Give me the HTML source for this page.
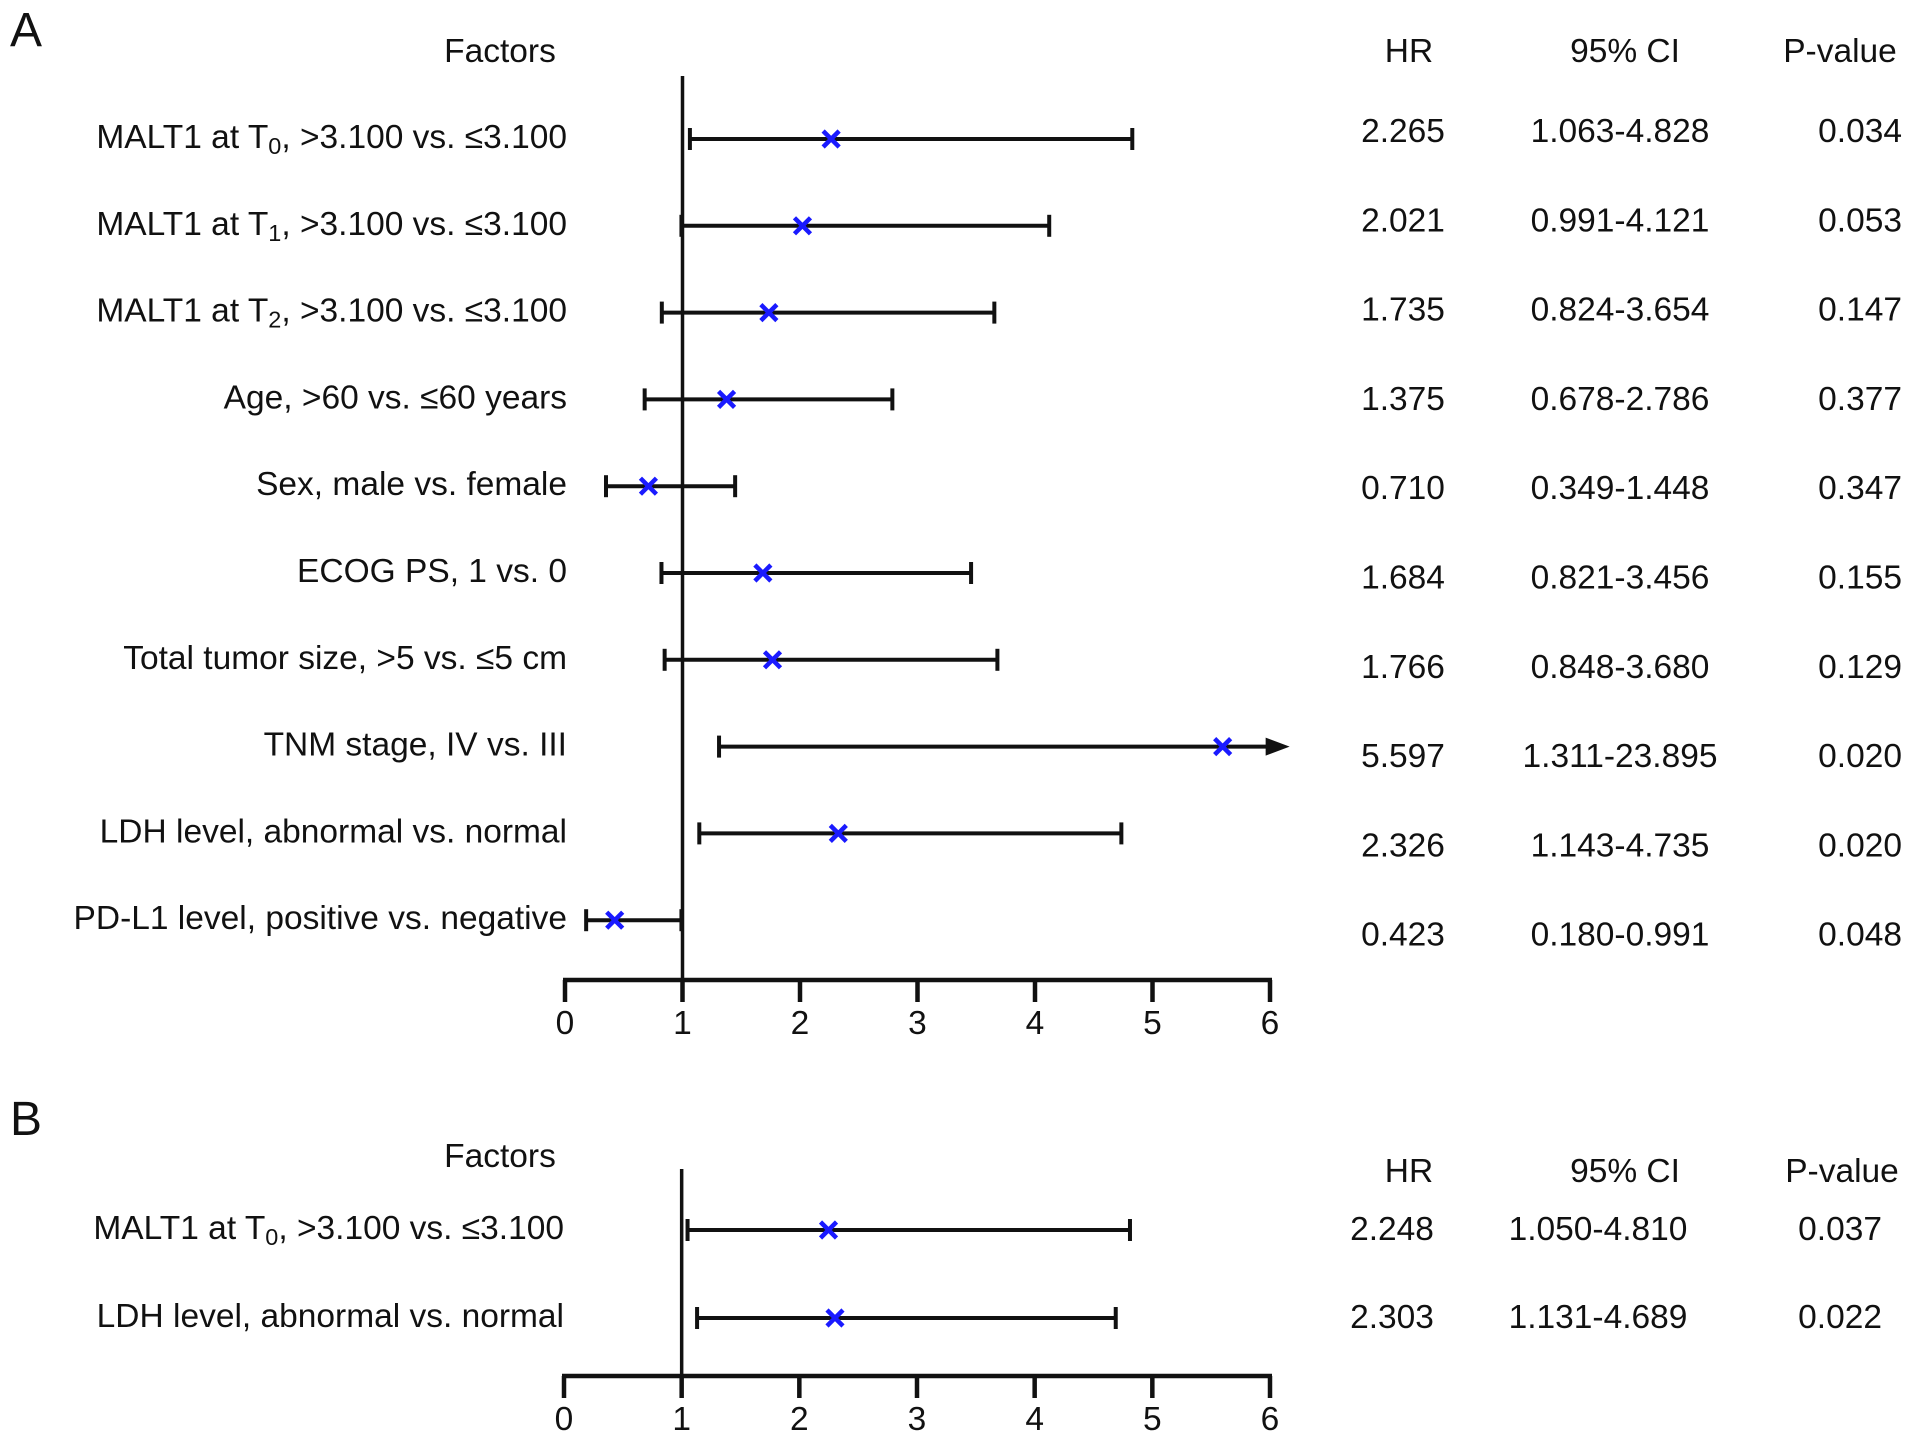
<!DOCTYPE html>
<html><head><meta charset="utf-8"><style>
html,body{margin:0;padding:0;background:#fff;}
svg{display:block;font-family:"Liberation Sans",Arial,sans-serif;}
</style></head><body>
<svg id="chart" width="1913" height="1450" viewBox="0 0 1913 1450"></svg>
<script>
const labelsA = ["MALT1 at T|0|, >3.100 vs. ≤3.100","MALT1 at T|1|, >3.100 vs. ≤3.100","MALT1 at T|2|, >3.100 vs. ≤3.100","Age, >60 vs. ≤60 years","Sex, male vs. female","ECOG PS, 1 vs. 0","Total tumor size, >5 vs. ≤5 cm","TNM stage, IV vs. III","LDH level, abnormal vs. normal","PD-L1 level, positive vs. negative"];
const hrA = [2.265,2.021,1.735,1.375,0.710,1.684,1.766,5.597,2.326,0.423];
const loA = [1.063,0.991,0.824,0.678,0.349,0.821,0.848,1.311,1.143,0.180];
const hiA = [4.828,4.121,3.654,2.786,1.448,3.456,3.680,23.895,4.735,0.991];
const hrTextA = ["2.265","2.021","1.735","1.375","0.710","1.684","1.766","5.597","2.326","0.423"];
const ciTextA = ["1.063-4.828","0.991-4.121","0.824-3.654","0.678-2.786","0.349-1.448","0.821-3.456","0.848-3.680","1.311-23.895","1.143-4.735","0.180-0.991"];
const pTextA = ["0.034","0.053","0.147","0.377","0.347","0.155","0.129","0.020","0.020","0.048"];
const labelsB = ["MALT1 at T|0|, >3.100 vs. ≤3.100","LDH level, abnormal vs. normal"];
const hrB = [2.248,2.303];
const loB = [1.050,1.131];
const hiB = [4.810,4.689];
const hrTextB = ["2.248","2.303"];
const ciTextB = ["1.050-4.810","1.131-4.689"];
const pTextB = ["0.037","0.022"];
const ticks = [0,1,2,3,4,5,6];

const NS="http://www.w3.org/2000/svg";
const svg=document.getElementById('chart');
const FS=33.5;
function mk(tag,attrs,parent){const e=document.createElementNS(NS,tag);for(const k in attrs)e.setAttribute(k,attrs[k]);(parent||svg).appendChild(e);return e;}
function txt(x,y,s,anchor,size,parent){
  const t=mk('text',{x:x,y:y,'text-anchor':anchor||'middle','font-size':size||FS,fill:'#111','dominant-baseline':'middle'},parent);
  const parts=s.split('|');
  parts.forEach((p,i)=>{const ts=mk('tspan',{},t);if(i%2===1){ts.setAttribute('font-size',(size||FS)*0.7);ts.setAttribute('dy',9);}else if(i>0){ts.setAttribute('dy',-9);}ts.textContent=p;});
  return t;
}
function panel(cfg){
  const g=mk('g',{});
  
  
  const x0=cfg.x0,unit=(cfg.x6-cfg.x0)/6;
  const xs=v=>x0+v*unit;
  const ys=i=>cfg.y0+i*cfg.dy;
  const L=txt(cfg.letterX,cfg.letterY,cfg.letter,'start',48,g);
  
  
  const F=txt(cfg.factorsX,cfg.factorsY,'Factors','middle',FS,g);
  
  
  [['HR',cfg.hrHX,'hr-header'],['95% CI',cfg.ciHX,'ci-header'],['P-value',cfg.pHX,'p-value-header']].forEach(h=>{
    const e=txt(h[1],cfg.headY,h[0],'middle',FS,g);
    
    
  });
  const ax=mk('line',{x1:xs(0)-2,x2:xs(6)+2,y1:cfg.axisY,y2:cfg.axisY,stroke:'#111','stroke-width':4.5},g);
  
  
  ticks.forEach(t=>{
    const tk=mk('line',{x1:xs(t),x2:xs(t),y1:cfg.axisY,y2:cfg.axisY+22,stroke:'#111','stroke-width':4.5},g);
    
    
    const tl=txt(xs(t),cfg.axisY+45,String(t),'middle',FS,g);
    
    
  });
  const ref=mk('line',{x1:xs(1),x2:xs(1),y1:cfg.refTop,y2:cfg.axisY,stroke:'#111','stroke-width':3.5},g);
  
  
  cfg.labels.forEach((lab,i)=>{
    const y=ys(i);
    const l=txt(cfg.labelX,y,lab,'end',FS,g);
    
    
    const lo=cfg.lo[i],hi=Math.min(cfg.hi[i],5.98),clipped=cfg.hi[i]>6;
    const ln=mk('line',{x1:xs(lo),x2:xs(hi),y1:y,y2:y,stroke:'#111','stroke-width':4},g);
    
    
    const c1=mk('line',{x1:xs(lo),x2:xs(lo),y1:y-11,y2:y+11,stroke:'#111','stroke-width':4},g);
    
    
    if(clipped){
      const ar=mk('polygon',{points:`${xs(hi)+22},${y} ${xs(hi)-2},${y-9} ${xs(hi)-2},${y+9}`,fill:'#111'},g);
      
      
    }else{
      const c2=mk('line',{x1:xs(hi),x2:xs(hi),y1:y-11,y2:y+11,stroke:'#111','stroke-width':4},g);
      
      
    }
    const hx=xs(cfg.hr[i]);
    const m=mk('path',{d:`M${hx-8},${y-8}L${hx+8},${y+8}M${hx+8},${y-8}L${hx-8},${y+8}`,stroke:'#1a1aff','stroke-width':4.5},g);
    
    
    const vy=cfg.vy0+i*cfg.vdy;
    const a=txt(cfg.hrX,vy,cfg.hrT[i],'middle',FS,g);
    
    
    const b=txt(cfg.ciX,vy,cfg.ciT[i],'middle',FS,g);
    
    
    const c=txt(cfg.pX,vy,cfg.pT[i],'end',FS,g);
    
    
  });
}
panel({name:'panel-a',letter:'A',letterX:10,letterY:33,factorsX:500,factorsY:53,headY:53,hrHX:1409,ciHX:1625,pHX:1840,
  x0:565,x6:1270,axisY:980,refTop:76,y0:139,dy:86.8,labelX:567,
  labels:labelsA,hr:hrA,lo:loA,hi:hiA,hrT:hrTextA,ciT:ciTextA,pT:pTextA,
  vy0:133,vdy:89.3,hrX:1403,ciX:1620,pX:1902});
panel({name:'panel-b',letter:'B',letterX:10,letterY:1122,factorsX:500,factorsY:1158,headY:1173,hrHX:1409,ciHX:1625,pHX:1842,
  x0:564,x6:1270,axisY:1376,refTop:1169,y0:1230,dy:88,labelX:564,
  labels:labelsB,hr:hrB,lo:loB,hi:hiB,hrT:hrTextB,ciT:ciTextB,pT:pTextB,
  vy0:1231,vdy:88,hrX:1392,ciX:1598,pX:1882});
</script>
</body></html>
